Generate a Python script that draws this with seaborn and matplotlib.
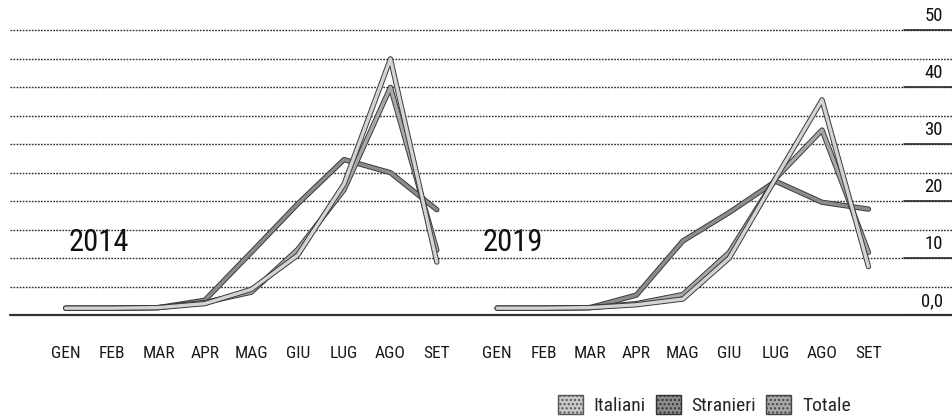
import pandas as pd
import matplotlib
matplotlib.use('Agg')
import matplotlib.pyplot as plt
import matplotlib.patheffects as pe
from matplotlib.patches import Patch
from matplotlib import font_manager
import seaborn as sns

mesi = ['GEN', 'FEB', 'MAR', 'APR', 'MAG', 'GIU', 'LUG', 'AGO', 'SET']
anni = ['2014', '2019']
serie = ['Italiani', 'Stranieri', 'Totale']

italiani_2014 = [1.2, 1.2, 1.3, 2.0, 4.5, 10.5, 23.0, 45.0, 9.3]
stranieri_2014 = [1.2, 1.2, 1.3, 2.6, 11.0, 19.5, 27.3, 25.0, 18.5]
totale_2014 = [1.2, 1.2, 1.3, 2.2, 4.0, 11.5, 22.0, 40.0, 11.4]

italiani_2019 = [1.2, 1.2, 1.3, 1.8, 2.8, 10.0, 24.0, 37.8, 8.5]
stranieri_2019 = [1.2, 1.2, 1.3, 3.5, 13.0, 18.0, 23.5, 19.8, 18.6]
totale_2019 = [1.2, 1.2, 1.3, 2.0, 3.6, 11.0, 24.0, 32.5, 11.0]

tick_y = [0, 10, 20, 30, 40, 50]
tick_lab = ['0,0', '10', '20', '30', '40', '50']
griglia = [0, 5, 10, 15, 20, 25, 30, 35, 40, 45, 50]

colori = {'Italiani': '#d4d4d4', 'Stranieri': '#8c8c8c', 'Totale': '#a8a8a8'}

righe = []
for anno, valori in [('2014', [italiani_2014, stranieri_2014, totale_2014]),
                     ('2019', [italiani_2019, stranieri_2019, totale_2019])]:
    for s, v in zip(serie, valori):
        for i, m in enumerate(mesi):
            righe.append({'anno': anno, 'serie': s, 'pos': i, 'mese': m, 'valore': v[i]})
df = pd.DataFrame(righe)

sns.set_style('white')
# carattere stretto se disponibile
nomi = {f.name for f in font_manager.fontManager.ttflist}
stretti = [n for n in ['Roboto Condensed', 'Liberation Sans Narrow', 'Open Sans Condensed',
                       'DejaVu Sans Condensed'] if n in nomi]
plt.rcParams['font.family'] = stretti + ['DejaVu Sans']
plt.rcParams['font.stretch'] = 'condensed'

fig = plt.figure(figsize=(9.52, 4.19), dpi=100)
W, H = 952, 419
# (left px, right px, xlim)
pannelli = [(10, 467, (-1.2, 8.65)), (467, 952, (-0.65, 9.8))]
ytop, ybot = 19, 315

for k, anno in enumerate(anni):
    l, r, xl = pannelli[k]
    ax = fig.add_axes([l / W, (H - ybot) / H, (r - l) / W, (ybot - ytop) / H])
    sub = df[df['anno'] == anno]
    sns.lineplot(data=sub, x='pos', y='valore', hue='serie', palette=colori,
                 hue_order=['Stranieri', 'Totale', 'Italiani'],
                 linewidth=2.4, legend=False, ax=ax)
    for ln in ax.lines:
        ln.set_path_effects([pe.Stroke(linewidth=3.8, foreground='#3a3a3a'), pe.Normal()])
    for g in griglia[1:]:
        ax.axhline(g, color='#2a2a2a', linestyle=(0, (1.2, 1.0)), linewidth=1.0, zorder=0)
    ax.axhline(0, color='#333333', linewidth=1.6, zorder=0, clip_on=False)
    ax.set_xlim(*xl)
    ax.set_ylim(0, 52)
    ax.set_xticks(range(len(mesi)))
    ax.set_xticklabels(mesi, fontsize=12.5, color='#1a1a1a')
    ax.tick_params(axis='x', length=0, pad=22)
    ax.set_yticks([])
    ax.set_xlabel('')
    ax.set_ylabel('')
    sns.despine(ax=ax, left=True, bottom=True)
    ax.patch.set_alpha(0)
    ax.text(0.71 if k == 0 else 0.33, 12.8, anno, fontsize=22, ha='center', va='center',
            color='#111111')
    if k == 1:
        tr = ax.get_yaxis_transform()
        for yv, lab in zip(tick_y, tick_lab):
            ax.text(0.981, yv + 0.9, lab, transform=tr, ha='right', va='bottom',
                    fontsize=13.5, color='#111111')
            ax.axhline(yv, xmin=0.9, xmax=1.0, color='#2a2a2a', linewidth=1.2, zorder=0)

maniglie = [Patch(facecolor='#c8c8c8', edgecolor='#555555', hatch='....', label='Italiani'),
            Patch(facecolor='#8c8c8c', edgecolor='#333333', hatch='....', label='Stranieri'),
            Patch(facecolor='#a8a8a8', edgecolor='#444444', hatch='....', label='Totale')]
fig.legend(handles=maniglie, loc='center right', bbox_to_anchor=(0.912, 0.033), ncol=3,
           frameon=False, fontsize=14, handlelength=1.3, handleheight=1.1,
           handletextpad=0.55, columnspacing=0.5)

fig.savefig('out.png', dpi=100)
